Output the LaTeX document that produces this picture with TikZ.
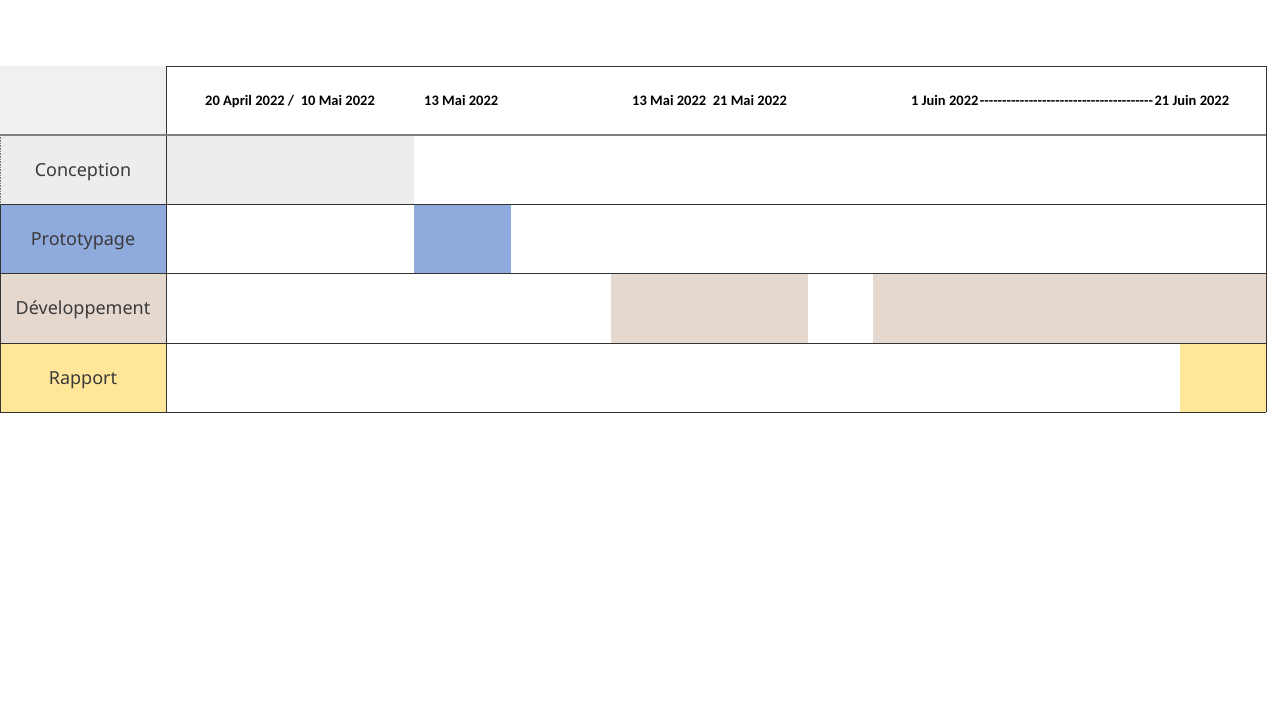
\documentclass[tikz,border=0pt]{standalone}
\usepackage{fontspec}
\setmainfont{Noto Sans}
\newfontfamily\hdfont{Carlito}
\definecolor{hdgray}{HTML}{F0F0F0}
\definecolor{congray}{HTML}{EDEDED}
\definecolor{protoblue}{HTML}{8FAADC}
\definecolor{devbeige}{HTML}{E5D8CF}
\definecolor{rapyellow}{HTML}{FFE699}
\definecolor{labeltext}{HTML}{3A3A3A}
\definecolor{gridline}{HTML}{333333}
\tikzset{
  rowlabel/.style={font=\fontsize{18}{21}\selectfont, text=labeltext, inner sep=0pt, anchor=base},
  datelabel/.style={font=\hdfont\bfseries\fontsize{14.5}{17}\selectfont, text=black, inner sep=0pt, anchor=base west},
  grid/.style={draw=gridline, line width=1pt},
  lightgrid/.style={draw=gray, line width=1.2pt}
}
\begin{document}
\begin{tikzpicture}[x=1pt,y=-1pt]
\useasboundingbox (0,0) rectangle (1280,720);
\fill[white] (0,0) rectangle (1280,720);
% fills
\fill[hdgray] (0,66) rectangle (166,135);
\fill[congray] (0,135) rectangle (166,204);
\fill[congray] (166,135) rectangle (414,204);
\fill[protoblue] (0,204) rectangle (166,273);
\fill[protoblue] (414,204) rectangle (511,273);
\fill[devbeige] (0,273) rectangle (166,343);
\fill[devbeige] (611,273) rectangle (808,343);
\fill[devbeige] (873,273) rectangle (1266,343);
\fill[rapyellow] (0,343) rectangle (166,412);
\fill[rapyellow] (1180,343) rectangle (1266,412);
% grid
\draw[grid] (166,66) -- (1266,66) -- (1266,412);
\draw[grid] (166,66) -- (166,412);
\draw[lightgrid] (0,135) -- (1266,135);
\draw[grid] (0,204) -- (1266,204);
\draw[grid] (0,273) -- (1266,273);
\draw[grid] (0,343) -- (1266,343);
\draw[grid] (0,412) -- (1266,412);
\draw[gray, line width=0.6pt, densely dotted] (0.5,135) -- (0.5,204);
\draw[grid] (0.5,204) -- (0.5,412);
% row labels
\node[rowlabel] (lcon) at (83,176) {Conception};
\node[rowlabel] (lpro) at (83,245) {Prototypage};
\node[rowlabel] (ldev) at (83,314.5) {Développement};
\node[rowlabel] (lrap) at (83,384) {Rapport};
% header dates
\node[datelabel] (d1) at (205,105) {20 April 2022 /\ \ 10 Mai 2022};
\node[datelabel] (d2) at (424,105) {13 Mai 2022};
\node[datelabel] (d3) at (632,105) {13 Mai 2022\ \ 21 Mai 2022};
\node[datelabel] (d4) at (911,105) {\makebox[318pt][s]{1 Juin 2022\cleaders\hbox{-}\hfill 21 Juin 2022}};
\end{tikzpicture}
\end{document}
